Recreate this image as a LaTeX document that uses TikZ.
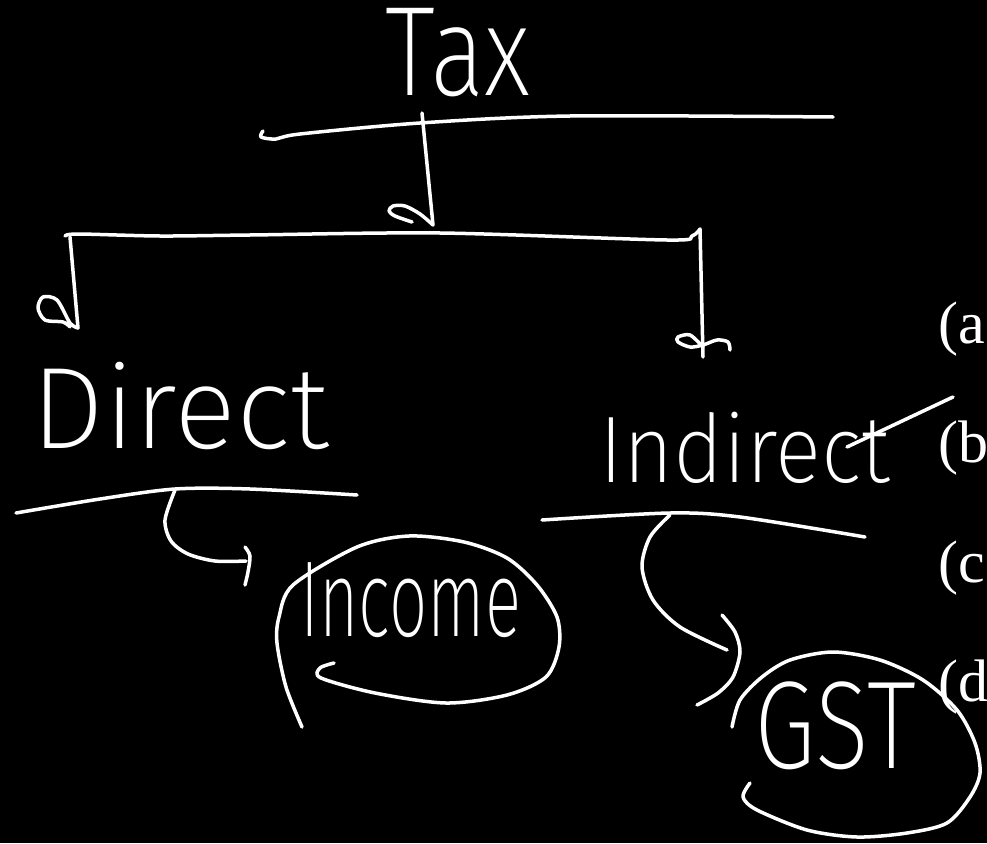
\documentclass[tikz,border=0pt]{standalone}
\usepackage{fontspec}
\usepackage{graphicx}
\newfontfamily\handfont{Fira Sans ExtraLight}
\newfontfamily\choicefont{Liberation Serif}
\usetikzlibrary{positioning}
\tikzset{
ink/.style={draw=white, line width=3.5pt, line cap=round, line join=round}, % pen strokes
word/.style={text=white, inner sep=0pt}, % handwritten words
choice/.style={text=white, inner sep=0pt, anchor=base west, font=\choicefont\fontsize{60}{60}\selectfont}, % options at the right edge
}

\begin{document}
\begin{tikzpicture}[x=1pt, y=-1pt]
\fill[black] (0,0) rectangle (987,843);
\useasboundingbox (0,0) rectangle (987,843);

% words
\node[word, font=\handfont\fontsize{102}{102}\selectfont] (tax) at (458,53) {\scalebox{1}[1.25]{Tax}};
\node[word, font=\handfont\fontsize{116}{116}\selectfont] (direct) at (180,406) {Direct};
\node[word, font=\handfont\fontsize{86}{86}\selectfont] (indirect) at (745,448) {\scalebox{1}[1.1]{Indirect}};
\node[word, font=\handfont\fontsize{90}{90}\selectfont] (income) at (411,600) {\scalebox{.75}[1.2]{Income}};
\node[word, font=\handfont\fontsize{100}{100}\selectfont] (gst) at (835,726) {\scalebox{1}[1.25]{GST}};

% options
\node[choice] (a) at (938,343) {(a};
\node[choice] (b) at (938,462) {(b};
\node[choice] (c) at (938,582) {(c};
\node[choice] (d) at (938,701) {(d};

% tree
\coordinate (stem top) at (422,113);
\coordinate (split) at (433,225);
\coordinate (left top) at (70,237);
\coordinate (left end) at (78,328);
\coordinate (right top) at (700,229);
\coordinate (right end) at (703,357);
\draw[ink] plot[smooth] coordinates {(263,131) (261,137) (276,139) (300,134) (420,123) (570,116) (833,117)};
\draw[ink] (stem top) -- (split);
\draw[ink] plot[smooth] coordinates {(split) (420,214) (405,206) (393,206) (389,211) (395,216) (412,222)};
\draw[ink] plot[smooth] coordinates {(65,236) (78,234) (160,236) (250,235) (440,233) (667,240) (692,236) (right top)};
\draw[ink] (left top) -- (left end);
\draw[ink] plot[smooth] coordinates {(left end) (70,323) (57,300) (43,297) (38,308) (45,320) (63,322) (70,327)};
\draw[ink] (right top) -- (right end);
\draw[ink] plot[smooth] coordinates {(703,347) (690,335) (678,337) (678,342) (690,347) (703,345) (717,340) (728,342) (730,350)};

% under direct
\draw[ink] plot[smooth] coordinates {(16,513) (100,499) (175,489) (250,489) (357,495)};
\draw[ink] plot[smooth] coordinates {(175,490) (165,520) (171,541) (188,554) (215,561) (246,561)};
\draw[ink] plot[smooth] coordinates {(245,547) (250,556) (248,572) (245,585)};
\draw[ink] plot[smooth] coordinates {(302,727) (286,687) (277,643) (279,617) (293,585) (357,547) (409,536) (464,542) (507,558) (537,585) (557,617) (559,647) (546,677) (507,695) (446,703) (375,693) (321,678) (320,668) (334,663)};

% under indirect
\draw[ink] (847,447) -- (953,397);
\draw[ink] plot[smooth] coordinates {(542,520) (670,513) (740,517) (865,537)};
\draw[ink] plot[smooth] coordinates {(670,515) (650,537) (642,567) (653,600) (680,627) (727,650)};
\draw[ink] plot[smooth] coordinates {(722,615) (735,632) (740,652) (733,677) (718,693) (697,705)};
\draw[ink] plot[smooth] coordinates {(732,727) (740,700) (762,677) (790,660) (833,652) (880,660) (923,680) (957,710) (975,743) (980,773) (970,797) (947,823) (907,833) (857,837) (807,830) (757,810) (743,797) (750,783)};
\end{tikzpicture}
\end{document}
